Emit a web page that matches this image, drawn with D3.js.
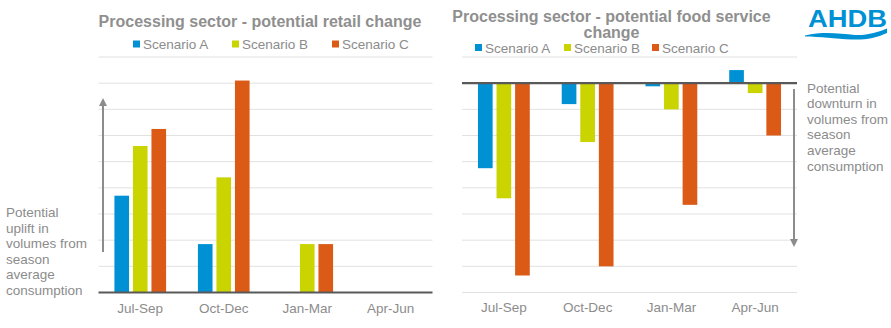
<!DOCTYPE html>
<html>
<head>
<meta charset="utf-8">
<script src="https://cdn.jsdelivr.net/npm/d3@7"></script>
<style>
  body { margin: 0; background: #fff; }
  svg { display: block; font-family: Arial, "Liberation Sans", sans-serif; }
</style>
</head>
<body>
<div id="chart"></div>
<script>
// data (units = one gridline step)
var seasons = ["Jul-Sep", "Oct-Dec", "Jan-Mar", "Apr-Jun"];
var scenarios = ["Scenario A", "Scenario B", "Scenario C"];
var retailA = [3.7, 1.85, 0, 0];
var retailB = [5.6, 4.4, 1.85, 0];
var retailC = [6.25, 8.1, 1.85, 0];
var foodA = [-3.25, -0.8, -0.12, 0.5];
var foodB = [-4.4, -2.25, -1.0, -0.38];
var foodC = [-7.35, -7.0, -4.65, -2.0];
var retailTicks = d3.range(0, 10);
var foodTicks = d3.range(-8, 2);

var colors = ["#0091d5", "#cad400", "#db5a16"];
var grey = "#8c8c8c";

var W = 891, H = 328;
var svg = d3.select("#chart").append("svg")
  .attr("width", W)
  .attr("height", H);

svg.append("defs").append("marker")
  .attr("id", "arr")
  .attr("viewBox", "0 0 10 10")
  .attr("refX", 5).attr("refY", 5)
  .attr("markerWidth", 4).attr("markerHeight", 4)
  .attr("orient", "auto-start-reverse")
  .append("path")
  .attr("d", "M0,0 L10,5 L0,10 Z")
  .attr("fill", grey);

function panel(opt) {
  var g = svg.append("g");
  var x0 = d3.scaleBand().domain(seasons).range(opt.xr);
  var x1 = d3.scaleBand().domain(scenarios).range([0, x0.bandwidth()])
    .paddingInner(0.21).paddingOuter(0.86);
  var y = d3.scaleLinear().domain(opt.dom).range([292.5, 57]);

  // gridlines
  g.selectAll(".grid")
    .data(opt.ticks.filter(function(t) { return t !== 0; }))
    .enter().append("line")
    .attr("x1", opt.xr[0]).attr("x2", opt.xr[1])
    .attr("y1", function(d) { return y(d); })
    .attr("y2", function(d) { return y(d); })
    .attr("stroke", "#e1e1e1")
    .attr("stroke-width", 1);

  var rows = seasons.map(function(s, i) {
    return opt.series.map(function(arr, k) { return { s: s, k: k, v: arr[i] }; });
  });

  g.selectAll(".grp")
    .data(rows)
    .enter().append("g")
    .attr("transform", function(d, i) { return "translate(" + x0(seasons[i]) + ",0)"; })
    .selectAll("rect")
    .data(function(d) { return d.filter(function(e) { return e.v !== 0; }); })
    .enter().append("rect")
    .attr("x", function(d) { return x1(scenarios[d.k]); })
    .attr("width", x1.bandwidth())
    .attr("y", function(d) { return Math.min(y(d.v), y(0)); })
    .attr("height", function(d) { return Math.abs(y(d.v) - y(0)); })
    .attr("fill", function(d) { return colors[d.k]; });

  // zero line
  g.append("line")
    .attr("x1", opt.xr[0]).attr("x2", opt.xr[1])
    .attr("y1", y(0)).attr("y2", y(0))
    .attr("stroke", "#595959")
    .attr("stroke-width", 2.2);

  // category labels
  var xa = g.append("g")
    .attr("transform", "translate(0," + opt.labY + ")")
    .call(d3.axisBottom(x0).tickSize(0).tickPadding(0));
  xa.select(".domain").remove();
  xa.selectAll("text")
    .attr("dy", 0)
    .attr("y", 0)
    .style("font-size", "13.5px")
    .style("font-family", "Arial, 'Liberation Sans', sans-serif")
    .attr("fill", grey);

  // title
  var tt = g.append("text")
    .attr("x", opt.titleX)
    .attr("text-anchor", "middle")
    .attr("fill", "#8f8f8f")
    .style("font-size", "16px")
    .style("font-weight", "bold");
  opt.title.forEach(function(t, i) {
    tt.append("tspan").attr("x", opt.titleX).attr("y", opt.titleY[i]).text(t);
  });

  // legend
  var lg = g.selectAll(".lg")
    .data(scenarios)
    .enter().append("g")
    .attr("transform", function(d, i) { return "translate(" + opt.legX[i] + "," + opt.legY + ")"; });
  lg.append("rect")
    .attr("x", 0).attr("y", -8.5)
    .attr("width", 7).attr("height", 7)
    .attr("fill", function(d, i) { return colors[i]; });
  lg.append("text")
    .attr("x", 10)
    .attr("y", 0)
    .attr("fill", grey)
    .style("font-size", "13.5px")
    .text(function(d) { return d; });

  // arrow
  g.append("line")
    .attr("x1", opt.arrow[0]).attr("x2", opt.arrow[0])
    .attr("y1", opt.arrow[1]).attr("y2", opt.arrow[2])
    .attr("stroke", grey)
    .attr("stroke-width", 2)
    .attr("marker-end", "url(#arr)");

  // side note
  var nt = g.append("text")
    .attr("fill", grey)
    .style("font-size", "13.5px");
  opt.note.forEach(function(t, i) {
    nt.append("tspan").attr("x", opt.noteX).attr("y", opt.noteY + i * 15.6).text(t);
  });
}

panel({
  xr: [98.5, 432.5],
  dom: [0, 9],
  ticks: retailTicks,
  series: [retailA, retailB, retailC],
  labY: 313,
  title: ["Processing sector - potential retail change"],
  titleX: 260, titleY: [26.5],
  legX: [133, 232, 332], legY: 49,
  arrow: [103, 252, 102],
  note: ["Potential", "uplift in", "volumes from", "season", "average", "consumption"],
  noteX: 6, noteY: 217
});

panel({
  xr: [462, 797],
  dom: [-8, 1],
  ticks: foodTicks,
  series: [foodA, foodB, foodC],
  labY: 312,
  title: ["Processing sector - potential food service", "change"],
  titleX: 611.5, titleY: [21.5, 38],
  legX: [475, 564, 652], legY: 52.5,
  arrow: [794, 89, 243],
  note: ["Potential", "downturn in", "volumes from", "season", "average", "consumption"],
  noteX: 807, noteY: 92.5
});

// AHDB logo
var logo = svg.append("g");
logo.append("text")
  .attr("x", 808).attr("y", 26.5)
  .attr("fill", "#0091d5")
  .attr("textLength", 79)
  .attr("lengthAdjust", "spacingAndGlyphs")
  .style("font-size", "24.5px")
  .style("font-weight", "bold")
  .text("AHDB");
logo.append("path")
  .attr("d", "M805,35.5 C825,31 840,34 855,35 C868,35.5 878,32 887,28.5 L887,33 C876,38 866,40 852,39.5 C835,39 820,36.5 805,36.5 Z")
  .attr("fill", "#0091d5");
</script>
</body>
</html>
